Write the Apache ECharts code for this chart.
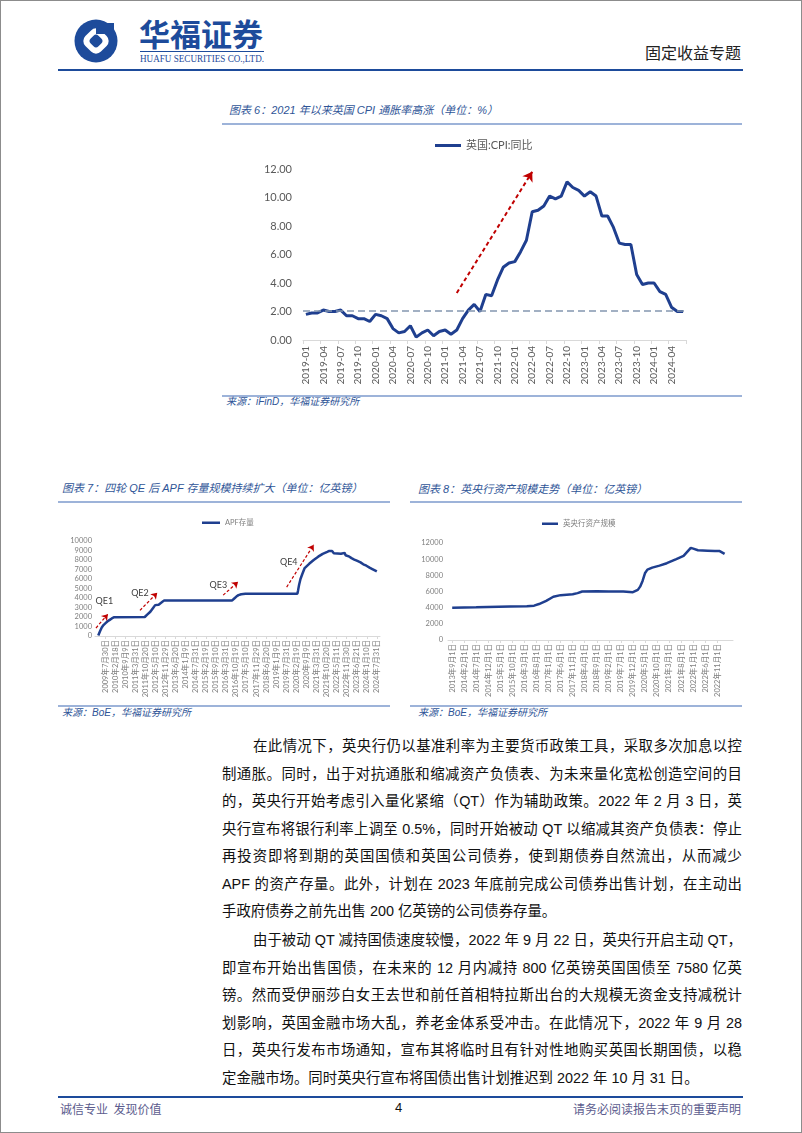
<!DOCTYPE html>
<html>
<head>
<meta charset="utf-8">
<script src="https://cdn.jsdelivr.net/npm/echarts@6.0.0/dist/echarts.min.js"></script>
<style>
html,body{margin:0;padding:0;background:#fff;}
#page{position:relative;width:802px;height:1133px;overflow:hidden;background:#fff;font-family:"Liberation Sans","Noto Sans CJK SC",sans-serif;}
.a{position:absolute;white-space:nowrap;}
.rule{position:absolute;}
.ttl{position:absolute;white-space:nowrap;font-size:11px;line-height:16px;font-style:italic;color:#2f5597;}
.src{position:absolute;white-space:nowrap;font-size:10px;line-height:14px;font-style:italic;color:#2f5597;}
.ln{position:absolute;left:222px;width:520px;height:28px;line-height:28px;font-size:14.4px;color:#111;text-align:justify;text-align-last:justify;white-space:nowrap;}
.ln.last{text-align-last:left;}
.ln.ind{padding-left:31px;width:489px;}
.chart{position:absolute;}
#border{position:absolute;left:0;top:0;width:802px;height:1133px;box-sizing:border-box;border:1px solid #8c8c8c;pointer-events:none;}
</style>
</head>
<body>
<div id="page">
  <!-- header -->
  <svg class="a" style="left:74px;top:19px" width="44" height="44" viewBox="0 0 44 44">
    <circle cx="22" cy="22" r="21.5" fill="#1d4b9b"/>
    <rect x="11" y="11" width="22" height="22" rx="7" transform="rotate(45 22 22)" fill="#fff"/>
    <rect x="16.5" y="16.5" width="11" height="11" rx="3.5" transform="rotate(45 22 22)" fill="#1d4b9b"/>
    <rect x="22" y="4" width="18" height="11" fill="#1d4b9b"/>
  </svg>
  <div class="a" style="left:139px;top:15px;font-size:31px;line-height:36px;font-weight:bold;color:#1d4b9b;font-family:'Noto Sans CJK SC';">华福证券</div>
  <div class="rule" style="left:140px;top:51px;width:124px;height:1px;background:#1d4b9b;"></div>
  <div class="a" id="eng" style="left:140px;top:53px;font-size:10px;line-height:11px;color:#1d4b9b;font-family:'Liberation Serif';transform-origin:left top;">HUAFU SECURITIES CO.,LTD.</div>
  <div class="a" style="right:61px;top:42px;font-size:16px;line-height:20px;color:#222;font-family:'Noto Sans CJK SC';">固定收益专题</div>
  <div class="rule" style="left:58px;top:69px;width:685px;height:2px;background:#1d4b9b;"></div>

  <!-- chart 6 -->
  <div class="ttl" style="left:229px;top:102px;">图表 6：2021 年以来英国 CPI 通胀率高涨（单位：%）</div>
  <div class="rule" style="left:222px;top:123px;width:520px;height:1.5px;background:#9db3d9;"></div>
  <div class="chart" id="c6" style="left:222px;top:128px;width:520px;height:262px;"></div>
  <div class="rule" style="left:222px;top:395px;width:520px;height:1.5px;background:#9db3d9;"></div>
  <div class="src" style="left:226px;top:395px;">来源：iFinD，华福证券研究所</div>

  <!-- chart 7 -->
  <div class="ttl" style="left:62px;top:480px;">图表 7：四轮 QE 后 APF 存量规模持续扩大（单位：亿英镑）</div>
  <div class="rule" style="left:58px;top:501px;width:332px;height:1.5px;background:#9db3d9;"></div>
  <div class="chart" id="c7" style="left:58px;top:505px;width:332px;height:200px;"></div>
  <div class="rule" style="left:58px;top:705px;width:332px;height:1.5px;background:#9db3d9;"></div>
  <div class="src" style="left:62px;top:706px;">来源：BoE，华福证券研究所</div>

  <!-- chart 8 -->
  <div class="ttl" style="left:418px;top:481px;">图表 8：英央行资产规模走势（单位：亿英镑）</div>
  <div class="rule" style="left:410px;top:501px;width:332px;height:1.5px;background:#9db3d9;"></div>
  <div class="chart" id="c8" style="left:410px;top:505px;width:332px;height:200px;"></div>
  <div class="rule" style="left:410px;top:705px;width:332px;height:1.5px;background:#9db3d9;"></div>
  <div class="src" style="left:418px;top:706px;">来源：BoE，华福证券研究所</div>

  <!-- paragraph 1 -->
  <div class="ln ind" style="top:732px;">在此情况下，英央行仍以基准利率为主要货币政策工具，采取多次加息以控</div>
  <div class="ln" style="top:759.5px;">制通胀。同时，出于对抗通胀和缩减资产负债表、为未来量化宽松创造空间的目</div>
  <div class="ln" style="top:787px;">的，英央行开始考虑引入量化紧缩（QT）作为辅助政策。2022 年 2 月 3 日，英</div>
  <div class="ln" style="top:814.5px;">央行宣布将银行利率上调至 0.5%，同时开始被动 QT 以缩减其资产负债表：停止</div>
  <div class="ln" style="top:842px;">再投资即将到期的英国国债和英国公司债券，使到期债券自然流出，从而减少</div>
  <div class="ln" style="top:869.5px;">APF 的资产存量。此外，计划在 2023 年底前完成公司债券出售计划，在主动出</div>
  <div class="ln last" style="top:897px;">手政府债券之前先出售 200 亿英镑的公司债券存量。</div>

  <!-- paragraph 2 -->
  <div class="ln ind" style="top:926px;">由于被动 QT 减持国债速度较慢，2022 年 9 月 22 日，英央行开启主动 QT，</div>
  <div class="ln" style="top:953.5px;">即宣布开始出售国债，在未来的 12 月内减持 800 亿英镑英国国债至 7580 亿英</div>
  <div class="ln" style="top:981px;">镑。然而受伊丽莎白女王去世和前任首相特拉斯出台的大规模无资金支持减税计</div>
  <div class="ln" style="top:1008.5px;">划影响，英国金融市场大乱，养老金体系受冲击。在此情况下，2022 年 9 月 28</div>
  <div class="ln" style="top:1036px;">日，英央行发布市场通知，宣布其将临时且有针对性地购买英国长期国债，以稳</div>
  <div class="ln last" style="top:1063.5px;">定金融市场。同时英央行宣布将国债出售计划推迟到 2022 年 10 月 31 日。</div>

  <!-- footer -->
  <div class="rule" style="left:58px;top:1096px;width:685px;height:1.5px;background:#1d4b9b;"></div>
  <div class="a" style="left:60px;top:1101px;font-size:12px;line-height:16px;color:#5c5c8e;font-family:'Noto Sans CJK SC';">诚信专业&nbsp;&nbsp;发现价值</div>
  <div class="a" style="left:395px;top:1100px;font-size:13px;line-height:16px;color:#111;">4</div>
  <div class="a" style="right:61px;top:1101px;font-size:12px;line-height:16px;color:#5c5c8e;font-family:'Noto Sans CJK SC';">请务必阅读报告末页的重要声明</div>
  <div id="border"></div>
</div>

<script>
// ---------------- data: chart 6 (UK CPI YoY, %) ----------------
const cpiMonths = [
 '2019-01','2019-02','2019-03','2019-04','2019-05','2019-06','2019-07','2019-08','2019-09','2019-10','2019-11','2019-12',
 '2020-01','2020-02','2020-03','2020-04','2020-05','2020-06','2020-07','2020-08','2020-09','2020-10','2020-11','2020-12',
 '2021-01','2021-02','2021-03','2021-04','2021-05','2021-06','2021-07','2021-08','2021-09','2021-10','2021-11','2021-12',
 '2022-01','2022-02','2022-03','2022-04','2022-05','2022-06','2022-07','2022-08','2022-09','2022-10','2022-11','2022-12',
 '2023-01','2023-02','2023-03','2023-04','2023-05','2023-06','2023-07','2023-08','2023-09','2023-10','2023-11','2023-12',
 '2024-01','2024-02','2024-03','2024-04','2024-05','2024-06'];
const cpiValues = [
 1.8,1.9,1.9,2.1,2.0,2.0,2.1,1.7,1.7,1.5,1.5,1.3,
 1.8,1.7,1.5,0.8,0.5,0.6,1.0,0.2,0.5,0.7,0.3,0.6,
 0.7,0.4,0.7,1.5,2.1,2.5,2.0,3.2,3.1,4.2,5.1,5.4,
 5.5,6.2,7.0,9.0,9.1,9.4,10.1,9.9,10.1,11.1,10.7,10.5,
 10.1,10.4,10.1,8.7,8.7,7.9,6.8,6.7,6.7,4.6,3.9,4.0,
 4.0,3.4,3.2,2.3,2.0,2.0];
const cpiRefLevel = 2.05;
const cpiArrow = [['2021-03', 3.3], ['2022-04', 11.8]];

// ---------------- data: chart 7 (APF stock, 亿英镑) ----------------
const apfDates = ['2009-03-12','2009-04-16','2009-05-21','2009-06-25','2009-08-06','2009-09-17','2009-10-29','2009-12-10','2010-01-28','2010-02-11',
 '2011-10-06','2011-11-24','2012-01-26','2012-03-22','2012-05-03','2012-07-12','2012-09-13','2012-11-01',
 '2016-08-04','2016-09-15','2016-10-27','2016-12-08','2017-02-02','2017-04-27',
 '2020-03-11','2020-03-25','2020-04-15','2020-05-13','2020-06-17','2020-08-05','2020-11-04','2021-02-03','2021-05-05','2021-08-04','2021-11-03','2021-12-15',
 '2022-02-09','2022-03-16','2022-08-10','2022-10-19','2022-11-09','2023-01-25','2023-03-08','2023-05-03','2023-07-05','2023-09-06','2023-11-01','2024-01-03','2024-03-06','2024-05-01','2024-07-31'];
const apfValues = [50,500,900,1150,1350,1550,1700,1850,1980,2000,
 2000,2250,2550,2950,3250,3300,3550,3750,
 3750,3950,4150,4300,4400,4450,
 4450,4800,5400,6000,6500,7150,7600,8000,8350,8650,8850,8950,
 8950,8720,8650,8750,8500,8350,8200,8050,7900,7750,7550,7400,7200,7050,6800];
const apfTicks = ['2009-07-30','2010-02-18','2010-09-09','2011-03-31','2011-10-20','2012-05-10','2012-11-29','2013-06-20','2014-01-09','2014-07-31',
 '2015-02-19','2015-09-10','2016-03-31','2016-10-19','2017-05-10','2017-11-29','2018-06-20','2019-01-09','2019-07-31','2020-02-19',
 '2020-09-09','2021-03-31','2021-10-20','2022-05-11','2022-11-30','2023-06-21','2024-01-10','2024-07-31'];
const qeNames = ['QE1','QE2','QE3','QE4'];
const qeLabelAt = [['2009-07-14',3700],['2011-07-01',4550],['2015-10-29',5350],['2019-09-19',7800]];
const qeArrows = [
 [['2009-01-24',840],['2009-09-22',2300]],
 [['2011-07-01',2700],['2012-06-14',4550]],
 [['2016-02-04',4300],['2016-12-01',5700]],
 [['2019-08-08',5150],['2021-02-04',9600]]];

// ---------------- data: chart 8 (BoE balance sheet, 亿英镑) ----------------
const boeDates = ['2013-09-01','2014-07-01','2015-09-01','2016-04-01','2016-07-01','2016-09-01','2016-12-01','2017-03-01','2017-06-01','2017-11-01',
 '2018-01-01','2018-03-01','2018-09-01','2019-02-01','2019-08-01','2019-12-01','2020-02-01','2020-03-01','2020-04-01','2020-05-01',
 '2020-06-01','2020-08-01','2020-11-01','2021-02-01','2021-06-01','2021-09-01','2021-12-01','2022-01-01','2022-03-01','2022-07-01',
 '2022-10-01','2022-12-01','2023-02-01'];
const boeValues = [4000,4050,4150,4180,4250,4450,4850,5350,5550,5650,
 5800,6000,6020,6000,6010,5920,6200,6600,7300,8250,
 8700,8950,9200,9500,10000,10400,11400,11300,11100,11050,
 11000,11000,10650];
const boeTicks = ['2013-09-01','2014-02-01','2014-07-01','2014-12-01','2015-05-01','2015-10-01','2016-03-01','2016-08-01','2017-01-01','2017-06-01',
 '2017-11-01','2018-04-01','2018-09-01','2019-02-01','2019-07-01','2019-12-01','2020-05-01','2020-10-01','2021-03-01','2021-08-01',
 '2022-01-01','2022-06-01','2022-11-01'];

// ---------------- helpers ----------------
function ts(s){const p=s.split('-');return new Date(+p[0],+p[1]-1,+p[2]).getTime();}
function cnDate(v){const d=new Date(v);return d.getFullYear()+'年'+(d.getMonth()+1)+'月'+d.getDate()+'日';}
const navy = '#1f3f8f';
const red = '#c00000';
const chartFont = "Lato, 'Noto Sans CJK SC', sans-serif";

(function(){const e=document.getElementById('eng');const w=e.offsetWidth;e.style.transform='scaleX('+(124/w)+')';})();

// ---------------- chart 6 ----------------
const c6 = echarts.init(document.getElementById('c6'));
c6.setOption({
  animation:false,
  textStyle:{fontFamily:chartFont},
  legend:{data:['英国:CPI:同比'], left:213, top:12, padding:0, icon:'rect', itemWidth:26, itemHeight:3, itemGap:4,
    textStyle:{fontSize:11, color:'#595959', fontFamily:chartFont}},
  grid:{left:81, right:56, top:41, bottom:50},
  xAxis:{type:'category', data:cpiMonths, boundaryGap:true,
    axisLine:{lineStyle:{color:'#d9d9d9'}},
    axisTick:{show:true, interval:2, length:4, lineStyle:{color:'#d9d9d9'}},
    axisLabel:{interval:2, rotate:90, fontSize:10, color:'#595959', margin:6, fontFamily:chartFont}},
  yAxis:{type:'value', min:0, max:12, interval:2,
    axisLabel:{formatter:v=>v.toFixed(2), fontSize:11, color:'#595959', margin:11, fontFamily:chartFont},
    splitLine:{show:false}, axisLine:{show:false}, axisTick:{show:false}},
  series:[{name:'英国:CPI:同比', type:'line', data:cpiValues, symbol:'none',
    lineStyle:{width:3, color:navy}, itemStyle:{color:navy},
    markLine:{silent:true, symbol:['none','none'], label:{show:false}, animation:false,
      data:[
        {yAxis:cpiRefLevel, lineStyle:{type:[7,4], color:'#8497b0', width:1.6}},
        [{coord:cpiArrow[0], symbol:'none', lineStyle:{type:[4,3], color:red, width:2}},
         {coord:cpiArrow[1], symbol:'arrow', symbolSize:9, lineStyle:{type:[4,3], color:red, width:2}}]
      ]}
  }]
});

// ---------------- chart 7 ----------------
const c7 = echarts.init(document.getElementById('c7'));
const apfTickTs = apfTicks.map(ts);
c7.setOption({
  animation:false,
  textStyle:{fontFamily:chartFont},
  legend:{data:['APF存量'], left:144, top:14, padding:0, icon:'rect', itemWidth:18, itemHeight:2.5, itemGap:3,
    textStyle:{fontSize:7.5, color:'#7f7f7f', fontFamily:chartFont}},
  grid:{left:37, right:10, top:36, bottom:69},
  xAxis:{type:'value', min:ts('2009-01-05'), max:ts('2024-10-03'),
    axisLine:{show:true, onZero:false, lineStyle:{color:'#d9d9d9'}},
    axisTick:{show:true, customValues:apfTickTs, length:3, lineStyle:{color:'#d9d9d9'}},
    axisLabel:{customValues:apfTickTs, rotate:90, fontSize:7.5, color:'#7f7f7f', margin:4, formatter:v=>cnDate(v), fontFamily:chartFont},
    splitLine:{show:false}},
  yAxis:{type:'value', min:0, max:10000, interval:1000,
    axisLabel:{fontSize:7.5, color:'#7f7f7f', margin:3, formatter:v=>String(v), fontFamily:chartFont},
    splitLine:{show:false}, axisLine:{show:false}, axisTick:{show:false}},
  series:[{name:'APF存量', type:'line', data:apfDates.map((d,i)=>[ts(d), apfValues[i]]), symbol:'none',
    lineStyle:{width:2.5, color:navy}, itemStyle:{color:navy},
    markLine:{silent:true, symbol:['none','arrow'], symbolSize:6, label:{show:false}, animation:false,
      lineStyle:{type:[3,2], color:red, width:1.2},
      data:qeArrows.map(a=>[{coord:[ts(a[0][0]),a[0][1]]},{coord:[ts(a[1][0]),a[1][1]]}])},
    markPoint:{silent:true, animation:false, symbol:'circle', symbolSize:1, itemStyle:{color:'rgba(0,0,0,0)'},
      label:{show:true, position:'inside', formatter:'{b}', fontSize:9, color:'#404040', fontFamily:chartFont},
      data:qeNames.map((n,i)=>({name:n, coord:[ts(qeLabelAt[i][0]), qeLabelAt[i][1]]}))}
  }]
});

// ---------------- chart 8 ----------------
const c8 = echarts.init(document.getElementById('c8'));
const boeTickTs = boeTicks.map(ts);
c8.setOption({
  animation:false,
  textStyle:{fontFamily:chartFont},
  legend:{data:['英央行资产规模'], left:132, top:15, padding:0, icon:'rect', itemWidth:16, itemHeight:2.5, itemGap:3,
    textStyle:{fontSize:7.5, color:'#7f7f7f', fontFamily:chartFont}},
  grid:{left:38, right:9, top:38, bottom:65},
  xAxis:{type:'value', min:ts('2013-07-10'), max:ts('2023-05-18'),
    axisLine:{show:true, onZero:false, lineStyle:{color:'#d9d9d9'}},
    axisTick:{show:true, customValues:boeTickTs, length:3, lineStyle:{color:'#d9d9d9'}},
    axisLabel:{customValues:boeTickTs, rotate:90, fontSize:7.5, color:'#7f7f7f', margin:4, formatter:v=>cnDate(v), fontFamily:chartFont},
    splitLine:{show:false}},
  yAxis:{type:'value', min:0, max:12000, interval:2000,
    axisLabel:{fontSize:7.5, color:'#7f7f7f', margin:5, formatter:v=>String(v), fontFamily:chartFont},
    splitLine:{show:false}, axisLine:{show:false}, axisTick:{show:false}},
  series:[{name:'英央行资产规模', type:'line', data:boeDates.map((d,i)=>[ts(d), boeValues[i]]), symbol:'none',
    lineStyle:{width:2.5, color:navy}, itemStyle:{color:navy}}]
});
</script>
</body>
</html>
